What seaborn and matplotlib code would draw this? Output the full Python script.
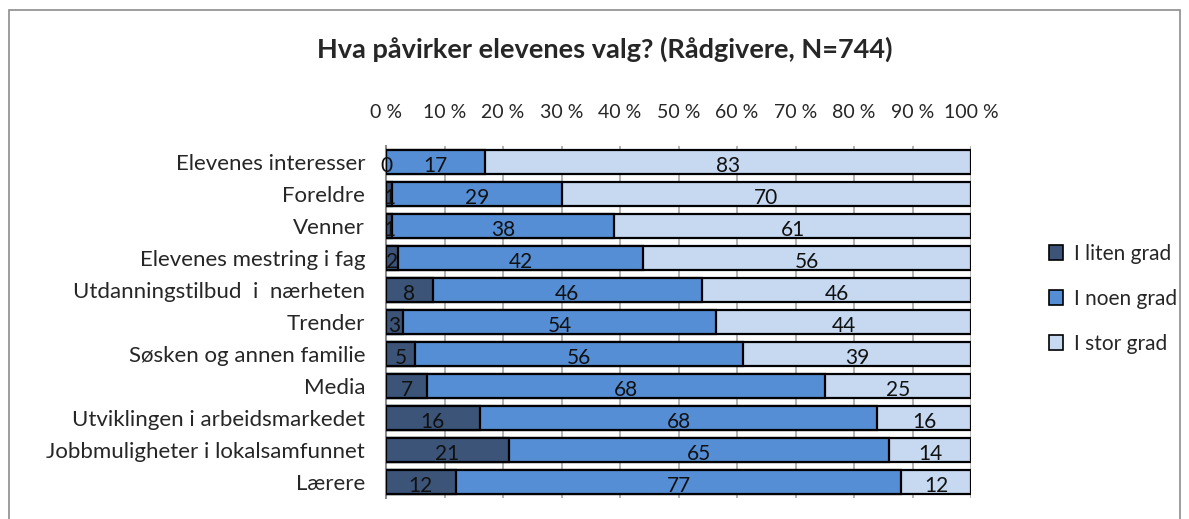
import matplotlib
matplotlib.use("Agg")
import matplotlib.pyplot as plt
import seaborn as sns
import numpy as np
import pandas as pd
from matplotlib.patches import Patch, Rectangle

categories = ["Elevenes interesser", "Foreldre", "Venner", "Elevenes mestring i fag",
              "Utdanningstilbud  i  nærheten", "Trender", "Søsken og annen familie", "Media",
              "Utviklingen i arbeidsmarkedet", "Jobbmuligheter i lokalsamfunnet", "Lærere"]
liten = [0, 1, 1, 2, 8, 3, 5, 7, 16, 21, 12]
noen = [17, 29, 38, 42, 46, 54, 56, 68, 68, 65, 77]
stor = [83, 70, 61, 56, 46, 44, 39, 25, 16, 14, 12]
series_names = ["I liten grad", "I noen grad", "I stor grad"]
tick_values = [0, 10, 20, 30, 40, 50, 60, 70, 80, 90, 100]
tick_labels = [f"{v} %" for v in tick_values]
title = "Hva påvirker elevenes valg? (Rådgivere, N=744)"

colors = ["#3b5478", "#558ed5", "#c6d9f1"]

sns.set_theme(style="white")
plt.rcParams['font.family'] = ['Lato', 'DejaVu Sans']

vals = np.array([liten, noen, stor], dtype=float)
totals = vals.sum(axis=0)
pct = vals / totals * 100
cum = np.cumsum(pct, axis=0)

fig = plt.figure(figsize=(11.89, 5.19), dpi=100)
ax = fig.add_axes([386/1189, 1-498/519, (971-386)/1189, (498-146)/519])

for i in [2, 1, 0]:
    df = pd.DataFrame({"cat": categories, "val": cum[i]})
    sns.barplot(data=df, x="val", y="cat", color=colors[i], orient="h", ax=ax,
                width=0.72, edgecolor="black", linewidth=1.6, saturation=1, zorder=3)

for j, cat in enumerate(categories):
    left = 0
    for i in range(3):
        w = pct[i, j]
        ax.text(left + w / 2, j + 0.14, f"{vals[i, j]:.0f}", ha="center", va="center",
                fontsize=15, color="#111111", zorder=5)
        left += w

ax.set_xlim(0, 100)
ax.set_ylim(len(categories) - 0.5, -0.5)
ax.xaxis.tick_top()
ax.set_xticks(tick_values)
ax.set_xticklabels(tick_labels, fontsize=14)
ax.tick_params(axis="x", length=0, pad=18)
ax.tick_params(axis="y", length=0, labelsize=16, pad=15)
ax.set_xlabel("")
ax.set_ylabel("")
ax.grid(axis="x", color="#a6a6a6", linewidth=1.2, zorder=0)
ax.set_axisbelow(True)
for s in ["top", "right", "bottom"]:
    ax.spines[s].set_visible(False)
ax.spines["left"].set_color("#8c8c8c")
ax.spines["left"].set_linewidth(1.5)

handles = [Patch(facecolor=colors[i], edgecolor="black", linewidth=1.2, label=series_names[i]) for i in range(3)]
fig.legend(handles=handles, loc="center left", bbox_to_anchor=(1030/1189, 1-299/519),
           frameon=False, fontsize=15, handlelength=0.7, handleheight=0.7,
           handletextpad=0.5, labelspacing=1.2)

fig.text(605/1189, 1-49/519, title, ha="center", va="center", fontsize=19.5, fontweight="bold")

fig.patches.append(Rectangle((9/1189, -0.05), (1180-9)/1189, 1-10/519+0.05,
                             transform=fig.transFigure, fill=False, edgecolor="#8c8c8c",
                             linewidth=1.2))

fig.savefig("out.png", dpi=100)
